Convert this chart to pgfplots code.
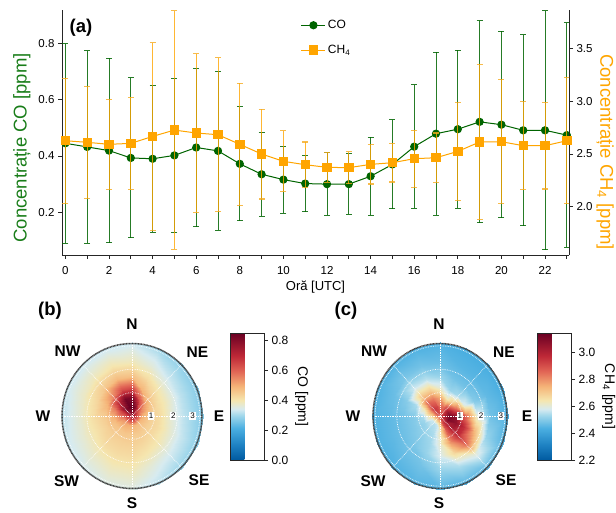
\documentclass[border=0pt]{standalone}
\usepackage{fontspec}
\setmainfont{Liberation Sans}
\usepackage{pgfplots}
\usepackage{pgfplotstable}
\pgfplotsset{compat=1.18}

\definecolor{cogreen}{RGB}{0,100,0}
\definecolor{colabel}{RGB}{25,125,25}
\definecolor{chorange}{RGB}{255,165,0}
\definecolor{chcap}{RGB}{245,170,30}

\pgfplotsset{
  every axis/.append style={/pgf/number format/assume math mode=true},
  colormap={rdylbu}{rgb255(0cm)=(0,90,160); rgb255(12cm)=(30,130,195);
    rgb255(25cm)=(75,175,225); rgb255(35cm)=(160,215,235);
    rgb255(40cm)=(215,235,240); rgb255(47cm)=(245,230,175);
    rgb255(58cm)=(245,180,120); rgb255(70cm)=(225,100,85);
    rgb255(82cm)=(190,40,55); rgb255(100cm)=(105,0,35)},
  costyle/.style={cogreen, line width=1pt, mark=*, mark size=3.6pt,
    mark options={solid, fill=cogreen}},
  chstyle/.style={chorange, line width=1pt, mark=square*, mark size=4.2pt,
    mark options={solid, fill=chorange}},
  polarbox/.style={scale only axis, hide axis, clip=false,
    xmin=-3.1, xmax=3.1, ymin=-3.1, ymax=3.1, colormap name=rdylbu},
  cbar/.style={scale only axis, width=34pt, height=127pt,
    ytick pos=right, tick align=outside, major tick length=4pt,
    tick style={black!85, line width=0.7pt},
    axis line style={black!85, line width=0.8pt},
    yticklabel style={font=\fontsize{12}{14}\selectfont,
      /pgf/number format/fixed, /pgf/number format/fixed zerofill,
      /pgf/number format/precision=1},
    ylabel style={font=\fontsize{14}{16}\selectfont, rotate=180}},
}

% hourly means and standard deviations
\pgfplotstableread{
h co coerr ch4 ch4err
0 0.445 0.354 2.625 0.592
1 0.432 0.341 2.610 0.528
2 0.419 0.327 2.591 0.424
3 0.393 0.284 2.600 0.438
4 0.390 0.261 2.666 0.888
5 0.402 0.273 2.726 1.129
6 0.430 0.282 2.698 0.753
7 0.418 0.282 2.682 0.728
8 0.372 0.202 2.591 0.579
9 0.335 0.149 2.499 0.426
10 0.316 0.119 2.430 0.288
11 0.302 0.100 2.398 0.215
12 0.300 0.111 2.373 0.140
13 0.300 0.107 2.370 0.150
14 0.328 0.138 2.401 0.186
15 0.370 0.158 2.417 0.183
16 0.433 0.219 2.455 0.270
17 0.479 0.289 2.464 0.234
18 0.495 0.281 2.524 0.461
19 0.521 0.358 2.613 0.734
20 0.511 0.331 2.616 0.585
21 0.491 0.339 2.578 0.415
22 0.491 0.424 2.578 0.410
23 0.474 0.398 2.625 0.595
}\hourly

% CO by wind direction (bearing, deg) and wind speed (m/s)
\pgfplotstableread{
b r v
0 0 0.75
0 0.4 0.85
0 0.8 0.81
0 1.2 0.64
0 1.7 0.47
0 2.3 0.39
0 3.15 0.33
22.5 0 0.75
22.5 0.4 0.79
22.5 0.8 0.62
22.5 1.2 0.49
22.5 1.7 0.42
22.5 2.3 0.36
22.5 3.15 0.30
45 0 0.75
45 0.4 0.64
45 0.8 0.51
45 1.2 0.44
45 1.7 0.39
45 2.3 0.33
45 3.15 0.28
67.5 0 0.75
67.5 0.4 0.56
67.5 0.8 0.47
67.5 1.2 0.42
67.5 1.7 0.38
67.5 2.3 0.32
67.5 3.15 0.27
90 0 0.75
90 0.4 0.51
90 0.8 0.45
90 1.2 0.42
90 1.7 0.37
90 2.3 0.32
90 3.15 0.27
112.5 0 0.75
112.5 0.4 0.49
112.5 0.8 0.44
112.5 1.2 0.42
112.5 1.7 0.38
112.5 2.3 0.33
112.5 3.15 0.28
135 0 0.75
135 0.4 0.48
135 0.8 0.44
135 1.2 0.42
135 1.7 0.39
135 2.3 0.34
135 3.15 0.29
157.5 0 0.75
157.5 0.4 0.48
157.5 0.8 0.45
157.5 1.2 0.43
157.5 1.7 0.40
157.5 2.3 0.36
157.5 3.15 0.32
180 0 0.75
180 0.4 0.49
180 0.8 0.45
180 1.2 0.44
180 1.7 0.42
180 2.3 0.39
180 3.15 0.35
202.5 0 0.75
202.5 0.4 0.50
202.5 0.8 0.46
202.5 1.2 0.44
202.5 1.7 0.42
202.5 2.3 0.39
202.5 3.15 0.35
225 0 0.75
225 0.4 0.51
225 0.8 0.46
225 1.2 0.44
225 1.7 0.42
225 2.3 0.38
225 3.15 0.34
247.5 0 0.75
247.5 0.4 0.53
247.5 0.8 0.47
247.5 1.2 0.44
247.5 1.7 0.41
247.5 2.3 0.37
247.5 3.15 0.33
270 0 0.75
270 0.4 0.58
270 0.8 0.50
270 1.2 0.45
270 1.7 0.42
270 2.3 0.37
270 3.15 0.32
292.5 0 0.75
292.5 0.4 0.68
292.5 0.8 0.57
292.5 1.2 0.49
292.5 1.7 0.43
292.5 2.3 0.38
292.5 3.15 0.33
315 0 0.75
315 0.4 0.82
315 0.8 0.70
315 1.2 0.55
315 1.7 0.46
315 2.3 0.39
315 3.15 0.33
337.5 0 0.75
337.5 0.4 0.86
337.5 0.8 0.83
337.5 1.2 0.64
337.5 1.7 0.48
337.5 2.3 0.40
337.5 3.15 0.33
360 0 0.75
360 0.4 0.85
360 0.8 0.81
360 1.2 0.64
360 1.7 0.47
360 2.3 0.39
360 3.15 0.33
}\cotable

% CH4 by wind direction (bearing, deg) and wind speed (m/s)
\pgfplotstableread{
b r v
0 0 2.90
0 0.4 2.85
0 0.8 2.75
0 1.2 2.61
0 1.7 2.52
0 2.3 2.47
0 3.15 2.44
22.5 0 2.90
22.5 0.4 2.85
22.5 0.8 2.63
22.5 1.2 2.52
22.5 1.7 2.48
22.5 2.3 2.45
22.5 3.15 2.43
45 0 2.90
45 0.4 2.95
45 0.8 2.71
45 1.2 2.54
45 1.7 2.48
45 2.3 2.45
45 3.15 2.43
67.5 0 2.90
67.5 0.4 3.05
67.5 0.8 2.86
67.5 1.2 2.59
67.5 1.7 2.50
67.5 2.3 2.46
67.5 3.15 2.43
90 0 2.90
90 0.4 3.12
90 0.8 3.06
90 1.2 2.84
90 1.7 2.60
90 2.3 2.48
90 3.15 2.44
112.5 0 2.90
112.5 0.4 3.10
112.5 0.8 3.06
112.5 1.2 2.96
112.5 1.7 2.74
112.5 2.3 2.52
112.5 3.15 2.45
135 0 2.90
135 0.4 3.00
135 0.8 3.01
135 1.2 2.96
135 1.7 2.85
135 2.3 2.60
135 3.15 2.46
157.5 0 2.90
157.5 0.4 2.90
157.5 0.8 2.86
157.5 1.2 2.79
157.5 1.7 2.67
157.5 2.3 2.54
157.5 3.15 2.45
180 0 2.90
180 0.4 2.70
180 0.8 2.63
180 1.2 2.61
180 1.7 2.58
180 2.3 2.52
180 3.15 2.45
202.5 0 2.90
202.5 0.4 2.57
202.5 0.8 2.54
202.5 1.2 2.53
202.5 1.7 2.52
202.5 2.3 2.48
202.5 3.15 2.45
225 0 2.90
225 0.4 2.55
225 0.8 2.53
225 1.2 2.51
225 1.7 2.49
225 2.3 2.47
225 3.15 2.44
247.5 0 2.90
247.5 0.4 2.57
247.5 0.8 2.52
247.5 1.2 2.50
247.5 1.7 2.48
247.5 2.3 2.46
247.5 3.15 2.44
270 0 2.90
270 0.4 2.66
270 0.8 2.54
270 1.2 2.50
270 1.7 2.48
270 2.3 2.46
270 3.15 2.44
292.5 0 2.90
292.5 0.4 2.80
292.5 0.8 2.64
292.5 1.2 2.54
292.5 1.7 2.50
292.5 2.3 2.47
292.5 3.15 2.44
315 0 2.90
315 0.4 2.95
315 0.8 2.86
315 1.2 2.71
315 1.7 2.57
315 2.3 2.49
315 3.15 2.44
337.5 0 2.90
337.5 0.4 2.92
337.5 0.8 2.83
337.5 1.2 2.69
337.5 1.7 2.55
337.5 2.3 2.48
337.5 3.15 2.44
360 0 2.90
360 0.4 2.85
360 0.8 2.75
360 1.2 2.61
360 1.7 2.52
360 2.3 2.47
360 3.15 2.44
}\chtable

\newcommand{\polargrid}[3]{%
  \draw[white, densely dotted, line width=0.7pt] (axis cs:-3.1,0) -- (axis cs:3.1,0);
  \draw[white, densely dotted, line width=0.7pt] (axis cs:0,-3.1) -- (axis cs:0,3.1);
  \draw[white, densely dotted, line width=0.7pt] (axis cs:-2.192,-2.192) -- (axis cs:2.192,2.192);
  \draw[white, densely dotted, line width=0.7pt] (axis cs:-2.192,2.192) -- (axis cs:2.192,-2.192);
  \draw[white, densely dotted, line width=0.7pt] (axis cs:0,0) ellipse[x radius=1, y radius=1];
  \draw[white, densely dotted, line width=0.7pt] (axis cs:0,0) ellipse[x radius=2, y radius=2];
  \draw[white, densely dotted, line width=0.7pt] (axis cs:0,0) ellipse[x radius=3, y radius=3];
  \draw[black!75, line width=1.5pt, dash pattern=on 1pt off 0.5pt] (axis cs:0,0) ellipse[x radius=3.1, y radius=3.1];
  \node[fill=white, inner sep=0.8pt, font=\fontsize{8}{8}\selectfont] at (axis cs:#1,0) {1};
  \node[fill=white, inner sep=0.8pt, font=\fontsize{8}{8}\selectfont] at (axis cs:#2,0) {2};
  \node[fill=white, inner sep=0.8pt, font=\fontsize{8}{8}\selectfont] at (axis cs:#3,0) {3};
}

\begin{document}
\begin{tikzpicture}
\path[use as bounding box] (0,0) rectangle (616pt,-513pt);

% ---------- (a) diurnal cycle ----------
\begin{axis}[
  at={(62pt,-10pt)}, anchor=north west,
  scale only axis, width=507pt, height=245pt,
  xmin=-0.156, xmax=23.1, ymin=0.0485, ymax=0.918,
  axis x line*=bottom, axis y line*=left,
  axis line style={-, line width=0.9pt, black!85},
  xtick={0,2,...,22}, minor xtick={1,3,...,23},
  ytick={0.2,0.4,0.6,0.8},
  tick align=outside, major tick length=4pt, minor tick length=4pt,
  tick style={line width=0.8pt, black!85},
  tick label style={font=\fontsize{11.5}{13}\selectfont},
  xticklabel style={yshift=-4pt},
  yticklabel style={/pgf/number format/fixed, /pgf/number format/fixed zerofill,
    /pgf/number format/precision=1},
  xlabel={Oră [UTC]},
  xlabel style={font=\fontsize{13}{15}\selectfont, yshift=1pt},
  ylabel={Concentrație CO [ppm]},
  ylabel style={font=\fontsize{18.5}{20}\selectfont, text=colabel,
    at={(axis description cs:-0.079,0.437)}, anchor=center},
]
\addplot[costyle,
  error bars/.cd, y dir=both, y explicit,
  error bar style={cogreen, line width=1pt, opacity=0.85},
  error mark options={rotate=90, draw=cogreen, line width=1pt, mark size=3pt, opacity=0.85}]
  table[x=h, y=co, y error=coerr] {\hourly};
\end{axis}

\begin{axis}[
  at={(62pt,-10pt)}, anchor=north west,
  scale only axis, width=507pt, height=245pt,
  xmin=-0.156, xmax=23.1, ymin=1.543, ymax=3.863,
  hide x axis, axis y line*=right,
  axis line style={-, line width=0.9pt, black!85},
  ytick={2,2.5,3,3.5},
  tick align=outside, major tick length=4pt,
  tick style={line width=0.8pt, black!85},
  tick label style={font=\fontsize{11.5}{13}\selectfont},
  yticklabel style={/pgf/number format/fixed, /pgf/number format/fixed zerofill,
    /pgf/number format/precision=1},
  ylabel={Concentrație CH\textsubscript{4} [ppm]},
  ylabel style={font=\fontsize{18.5}{20}\selectfont, text=chorange, rotate=180,
    at={(axis description cs:1.071,0.42)}, anchor=center},
  legend style={at={(axis description cs:0.465,0.975)}, anchor=north west,
    draw=none, fill=none, font=\fontsize{12}{14}\selectfont, row sep=11pt},
  legend cell align=left,
  legend image code/.code={\draw[mark repeat=2, mark phase=2, #1]
    plot coordinates {(0pt,0pt) (12pt,0pt) (24pt,0pt)};},
]
\addlegendimage{costyle}
\addlegendentry{CO}
\addplot[chstyle,
  error bars/.cd, y dir=both, y explicit,
  error bar style={draw=chorange, line width=1pt, opacity=0.8},
  error mark options={rotate=90, draw=chcap, line width=1.1pt, mark size=3pt}]
  table[x=h, y=ch4, y error=ch4err] {\hourly};
\addlegendentry{CH\textsubscript{4}}
\end{axis}

\node[font=\fontsize{18.5}{20}\selectfont\bfseries] at (81pt,-28pt) {(a)};

% ---------- (b) CO polar map ----------
\begin{axis}[polarbox,
  at={(132pt,-416pt)}, anchor=center, width=140pt, height=145pt,
  point meta min=0, point meta max=0.85,
  colorbar,
  colorbar shift/.style={xshift=27pt, yshift=10.5pt},
  colorbar style={cbar, ytick={0,0.2,0.4,0.6,0.8}, ylabel={CO [ppm]}},
]
\addplot[surf, shader=interp, mesh/rows=17, mesh/cols=7, point meta=explicit]
  table[x expr={\thisrow{r}*sin(\thisrow{b})}, y expr={\thisrow{r}*cos(\thisrow{b})},
        meta=v] {\cotable};
\polargrid{0.85}{1.83}{2.68}
\end{axis}

% ---------- (c) CH4 polar map ----------
\begin{axis}[polarbox,
  at={(440pt,-416pt)}, anchor=center, width=134pt, height=145pt,
  point meta min=2.2, point meta max=3.14,
  colorbar,
  colorbar shift/.style={xshift=29pt, yshift=10.5pt},
  colorbar style={cbar, ytick={2.2,2.4,2.6,2.8,3.0}, ylabel={CH\textsubscript{4} [ppm]}},
]
\addplot[surf, shader=interp, mesh/rows=17, mesh/cols=7, point meta=explicit]
  table[x expr={\thisrow{r}*sin(\thisrow{b})}, y expr={\thisrow{r}*cos(\thisrow{b})},
        meta=v] {\chtable};
\polargrid{0.92}{1.9}{2.82}
\end{axis}

% panel letters and compass points
\begin{scope}[every node/.style={font=\fontsize{15.5}{17}\selectfont\bfseries}]
\node[font=\fontsize{18.5}{20}\selectfont\bfseries] at (50pt,-311pt) {(b)};
\node at (132pt,-324pt) {N};
\node at (132pt,-503.5pt) {S};
\node at (43pt,-416pt) {W};
\node at (219pt,-416pt) {E};
\node at (67.5pt,-351pt) {NW};
\node at (197.5pt,-352pt) {NE};
\node at (66.5pt,-481pt) {SW};
\node at (199pt,-480pt) {SE};
\node[font=\fontsize{18.5}{20}\selectfont\bfseries] at (346pt,-311pt) {(c)};
\node at (439pt,-324pt) {N};
\node at (439pt,-503.5pt) {S};
\node at (353pt,-416pt) {W};
\node at (527pt,-416pt) {E};
\node at (374pt,-351pt) {NW};
\node at (504pt,-352pt) {NE};
\node at (373pt,-481pt) {SW};
\node at (506pt,-480pt) {SE};
\end{scope}
\end{tikzpicture}
\end{document}
